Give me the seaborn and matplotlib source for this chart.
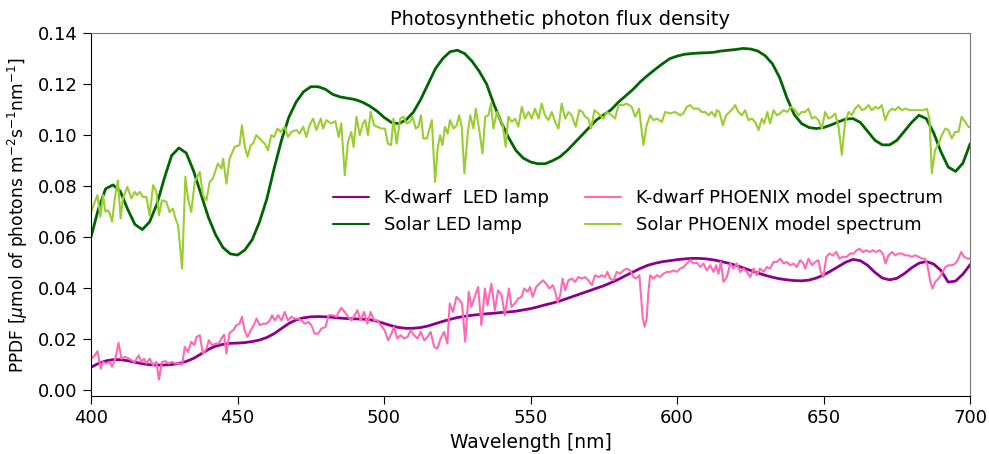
import seaborn as sns
import numpy as np
import matplotlib.pyplot as plt

# LED lamp spectra (smooth), every 2.5 nm
led_wl = [400 + 2.5 * i for i in range(121)]
kdwarf_led = [0.0090, 0.0105, 0.0115, 0.0120, 0.0120, 0.0116, 0.0110, 0.0104, 0.0100, 0.0099,
              0.0099, 0.0101, 0.0105, 0.0113, 0.0125, 0.0142, 0.0160, 0.0173, 0.0180, 0.0184,
              0.0185, 0.0187, 0.0191, 0.0197, 0.0207, 0.0222, 0.0242, 0.0262, 0.0276, 0.0284,
              0.0288, 0.0289, 0.0288, 0.0286, 0.0283, 0.0281, 0.0280, 0.0279, 0.0277, 0.0271,
              0.0262, 0.0253, 0.0246, 0.0243, 0.0243, 0.0246, 0.0252, 0.0261, 0.0270, 0.0278,
              0.0285, 0.0290, 0.0294, 0.0297, 0.0300, 0.0302, 0.0305, 0.0307, 0.0310, 0.0315,
              0.0320, 0.0327, 0.0335, 0.0342, 0.0350, 0.0360, 0.0370, 0.0380, 0.0390, 0.0400,
              0.0410, 0.0422, 0.0435, 0.0450, 0.0464, 0.0478, 0.0490, 0.0498, 0.0504, 0.0508,
              0.0512, 0.0515, 0.0517, 0.0517, 0.0515, 0.0511, 0.0505, 0.0498, 0.0490, 0.0480,
              0.0470, 0.0460, 0.0451, 0.0443, 0.0437, 0.0433, 0.0430, 0.0429, 0.0432, 0.0440,
              0.0452, 0.0468, 0.0485, 0.0502, 0.0513, 0.0508, 0.0490, 0.0462, 0.0440, 0.0433,
              0.0439, 0.0457, 0.0480, 0.0498, 0.0505, 0.0495, 0.0470, 0.0424, 0.0428, 0.0455,
              0.0493]
solar_led = [0.0600, 0.0710, 0.0790, 0.0805, 0.0780, 0.0710, 0.0650, 0.0630, 0.0660, 0.0730,
             0.0830, 0.0920, 0.0950, 0.0930, 0.0860, 0.0770, 0.0680, 0.0610, 0.0560, 0.0535,
             0.0530, 0.0550, 0.0590, 0.0660, 0.0750, 0.0870, 0.0980, 0.1070, 0.1130, 0.1170,
             0.1190, 0.1190, 0.1180, 0.1160, 0.1150, 0.1145, 0.1140, 0.1130, 0.1115, 0.1095,
             0.1070, 0.1050, 0.1045, 0.1060, 0.1090, 0.1140, 0.1200, 0.1260, 0.1300, 0.1327,
             0.1333, 0.1320, 0.1290, 0.1250, 0.1200, 0.1120, 0.1050, 0.0990, 0.0940, 0.0910,
             0.0895, 0.0888, 0.0888, 0.0900, 0.0915, 0.0940, 0.0970, 0.1000, 0.1030, 0.1060,
             0.1080, 0.1100, 0.1130, 0.1155, 0.1180, 0.1210, 0.1235, 0.1258, 0.1280, 0.1300,
             0.1310, 0.1317, 0.1320, 0.1322, 0.1323, 0.1325, 0.1330, 0.1333, 0.1336, 0.1340,
             0.1338, 0.1330, 0.1312, 0.1280, 0.1225, 0.1145, 0.1080, 0.1045, 0.1030, 0.1026,
             0.1030, 0.1040, 0.1052, 0.1063, 0.1065, 0.1050, 0.1015, 0.0980, 0.0962, 0.0962,
             0.0980, 0.1015, 0.1050, 0.1078, 0.1065, 0.1010, 0.0935, 0.0875, 0.0858, 0.0890,
             0.0967]

# PHOENIX model spectra (noisy)
sol_wl = [400.1, 401.3, 402.2, 403.2, 404.1, 404.9, 405.8, 406.4, 407.2, 408.1, 409.2, 410.1, 410.9,
          412.4, 413.8, 414.9, 415.7, 416.6, 417.7, 418.9, 420.0, 421.2, 422.3, 423.2, 424.2, 425.7,
          426.8, 428.0, 428.8, 429.7, 431.1, 432.2, 433.1, 434.2, 435.4, 437.1, 438.2, 439.4, 440.5,
          441.6, 443.3, 444.5, 445.1, 446.2, 447.3, 449.0, 450.7, 451.5, 452.4, 453.4, 454.5, 455.3,
          456.4, 458.1, 459.3, 460.4, 461.5, 462.5, 463.6, 464.7, 466.1, 467.2, 468.4, 470.1, 471.2,
          472.4, 473.5, 474.6, 475.8, 476.9, 478.4, 479.2, 480.3, 482.0, 483.4, 484.5, 485.4, 486.6,
          487.7, 488.8, 489.6, 490.6, 491.7, 492.8, 493.6, 494.5, 495.4, 496.6, 497.7, 499.1, 500.3,
          501.3, 502.4, 503.2, 504.3, 505.5, 506.6, 507.7, 508.9, 509.7, 510.8, 511.7, 512.6, 513.4,
          514.6, 516.3, 517.4, 518.3, 519.1, 519.9, 520.8, 521.7, 522.5, 523.7, 524.8, 525.6, 526.5,
          527.4, 528.6, 529.4, 530.5, 531.3, 532.4, 533.6, 534.5, 535.6, 536.5, 537.3, 538.5, 539.6,
          540.4, 541.5, 542.4, 543.6, 544.7, 545.8, 547.0, 548.1, 549.3, 550.4, 551.5, 552.7, 553.8,
          554.9, 556.1, 557.2, 558.4, 559.5, 560.6, 561.8, 562.9, 564.0, 565.4, 566.6, 567.7, 568.6,
          569.7, 570.6, 571.8, 573.1, 574.9, 576.0, 577.7, 578.8, 580.0, 581.7, 582.8, 584.5, 585.7,
          587.0, 588.5, 589.6, 590.8, 591.9, 593.1, 594.8, 595.9, 597.6, 599.3, 601.0, 602.1, 603.3,
          604.4, 605.6, 607.3, 608.4, 609.6, 610.7, 611.8, 613.0, 613.5, 614.4, 615.6, 616.7, 617.9,
          619.0, 619.8, 620.9, 622.1, 623.2, 624.3, 625.5, 626.6, 627.8, 628.9, 629.7, 630.8, 631.7,
          632.9, 634.0, 635.1, 636.3, 637.6, 638.8, 640.3, 641.4, 642.5, 643.7, 644.8, 646.0, 647.1,
          648.2, 649.4, 650.5, 651.6, 652.8, 653.9, 655.1, 656.2, 657.3, 658.5, 659.6, 660.7, 661.9,
          663.0, 664.2, 665.3, 666.4, 667.6, 668.7, 669.8, 671.0, 672.1, 673.3, 674.4, 675.5, 676.7,
          677.8, 679.5, 681.2, 682.9, 684.1, 685.2, 686.1, 686.9, 688.0, 689.2, 690.3, 691.5, 692.6,
          693.7, 694.9, 696.0, 697.1, 698.3, 699.4, 700.0]
sol_phoenix = [0.0700, 0.0738, 0.0765, 0.0680, 0.0765, 0.0700, 0.0706, 0.0693, 0.0660, 0.0752, 0.0823,
               0.0673, 0.0752, 0.0797, 0.0752, 0.0778, 0.0765, 0.0778, 0.0758, 0.0758, 0.0686, 0.0804,
               0.0778, 0.0686, 0.0745, 0.0739, 0.0699, 0.0712, 0.0673, 0.0647, 0.0477, 0.0837, 0.0752,
               0.0699, 0.0817, 0.0856, 0.0765, 0.0745, 0.0817, 0.0830, 0.0889, 0.0869, 0.0908, 0.0810,
               0.0908, 0.0954, 0.0961, 0.1039, 0.0961, 0.0915, 0.0961, 0.0967, 0.1000, 0.0980, 0.0967,
               0.0941, 0.1000, 0.0993, 0.1026, 0.1013, 0.1033, 0.0993, 0.1013, 0.1020, 0.1006, 0.1033,
               0.0993, 0.1039, 0.1065, 0.1020, 0.1065, 0.1026, 0.1059, 0.1046, 0.1055, 0.0993, 0.1046,
               0.0843, 0.0974, 0.1013, 0.0954, 0.1072, 0.1000, 0.1046, 0.1059, 0.1000, 0.1091, 0.1039,
               0.1033, 0.1026, 0.1026, 0.0967, 0.0961, 0.1065, 0.0967, 0.1065, 0.1072, 0.1046, 0.1052,
               0.1072, 0.1026, 0.1033, 0.1078, 0.0987, 0.0987, 0.1059, 0.0817, 0.0948, 0.1000, 0.0961,
               0.1033, 0.1006, 0.1059, 0.1026, 0.1039, 0.1078, 0.1033, 0.0850, 0.1013, 0.1078, 0.1026,
               0.1104, 0.1026, 0.0928, 0.1072, 0.1078, 0.1124, 0.1026, 0.1091, 0.1059, 0.1046, 0.0954,
               0.1072, 0.1052, 0.1065, 0.1033, 0.1111, 0.1065, 0.1091, 0.1065, 0.1104, 0.1065, 0.1124,
               0.1078, 0.1059, 0.1091, 0.1052, 0.1026, 0.1124, 0.1065, 0.1091, 0.1078, 0.1033, 0.1098,
               0.1091, 0.1072, 0.1065, 0.1026, 0.1098, 0.1085, 0.1065, 0.1091, 0.1078, 0.1065, 0.1118,
               0.1118, 0.1124, 0.1111, 0.1072, 0.1104, 0.0961, 0.1039, 0.1078, 0.1059, 0.1065, 0.1052,
               0.1091, 0.1085, 0.1091, 0.1078, 0.1085, 0.1111, 0.1118, 0.1104, 0.1104, 0.1091, 0.1091,
               0.1078, 0.1091, 0.1072, 0.1098, 0.1091, 0.1039, 0.1078, 0.1091, 0.1104, 0.1118, 0.1091,
               0.1078, 0.1098, 0.1059, 0.1065, 0.1052, 0.1020, 0.1065, 0.1046, 0.1091, 0.1046, 0.1098,
               0.1078, 0.1085, 0.1098, 0.1091, 0.1111, 0.1098, 0.1078, 0.1091, 0.1091, 0.1104, 0.1065,
               0.1072, 0.1059, 0.1026, 0.1091, 0.1065, 0.1072, 0.1085, 0.1033, 0.0922, 0.1052, 0.1091,
               0.1078, 0.1104, 0.1118, 0.1098, 0.1104, 0.1118, 0.1098, 0.1111, 0.1104, 0.1118, 0.1059,
               0.1091, 0.1104, 0.1098, 0.1111, 0.1098, 0.1104, 0.1098, 0.1098, 0.1098, 0.1098, 0.1104,
               0.1065, 0.0850, 0.0941, 0.0967, 0.1000, 0.1026, 0.1020, 0.0987, 0.1013, 0.1013, 0.1072,
               0.1052, 0.1033, 0.1030]

kd_wl = [400.1, 401.3, 402.2, 403.3, 404.1, 405.2, 406.4, 407.2, 408.3, 409.4, 410.4, 411.5, 412.6,
         413.8, 414.9, 416.3, 417.2, 418.1, 418.9, 420.0, 421.2, 422.3, 423.2, 424.2, 425.4, 426.5,
         427.6, 428.8, 429.9, 431.1, 432.0, 433.1, 434.2, 435.2, 436.0, 437.1, 438.2, 439.4, 440.2,
         441.3, 442.5, 443.6, 444.5, 445.4, 446.2, 447.3, 448.5, 449.6, 450.7, 451.5, 452.4, 453.4,
         454.5, 455.6, 456.5, 457.6, 458.7, 459.8, 461.0, 461.8, 462.7, 463.9, 465.0, 466.1, 467.2,
         468.4, 469.5, 470.6, 471.8, 472.9, 474.1, 475.2, 476.3, 477.5, 478.6, 480.0, 481.1, 482.6,
         483.8, 484.5, 485.4, 486.6, 487.7, 488.8, 490.0, 490.9, 492.0, 493.2, 494.3, 495.4, 496.6,
         497.7, 498.9, 500.2, 501.4, 502.5, 503.4, 504.5, 505.7, 506.8, 508.0, 509.1, 510.2, 511.4,
         512.5, 513.7, 514.8, 515.9, 517.1, 518.2, 519.3, 520.5, 521.6, 522.4, 523.5, 524.7, 525.8,
         526.6, 527.7, 528.9, 529.8, 530.9, 532.1, 533.2, 534.4, 535.3, 536.6, 537.8, 538.9, 540.1,
         541.2, 542.6, 543.5, 544.6, 545.8, 546.9, 547.8, 549.0, 549.8, 550.7, 551.9, 553.0, 554.2,
         555.3, 556.4, 557.6, 558.4, 559.2, 560.1, 560.9, 561.8, 562.9, 564.1, 565.2, 566.3, 567.5,
         568.6, 569.7, 570.9, 572.0, 573.2, 574.3, 575.4, 576.2, 577.1, 578.3, 579.4, 580.5, 581.7,
         582.8, 584.0, 585.1, 586.0, 587.1, 588.3, 588.9, 589.6, 590.2, 590.8, 591.9, 593.1, 594.2,
         595.3, 596.5, 597.6, 598.8, 599.9, 601.0, 602.2, 603.3, 604.4, 605.6, 606.7, 607.9, 609.0,
         610.1, 611.3, 612.4, 613.3, 614.1, 614.9, 615.8, 617.0, 618.1, 619.2, 620.4, 621.5, 622.6,
         623.8, 624.9, 626.1, 627.2, 628.3, 629.5, 630.6, 631.7, 632.9, 634.0, 635.2, 636.3, 637.4,
         638.6, 639.7, 640.8, 642.0, 643.1, 643.7, 644.8, 646.0, 647.1, 648.2, 649.0, 649.9, 650.9,
         652.0, 653.1, 654.3, 655.4, 656.5, 657.9, 659.0, 660.2, 661.3, 662.2, 663.4, 664.5, 665.6,
         666.8, 667.9, 669.1, 670.2, 671.1, 672.1, 673.3, 674.4, 675.5, 676.7, 677.8, 678.9, 680.1,
         681.2, 682.4, 683.5, 684.6, 685.4, 686.4, 687.1, 688.1, 689.2, 690.3, 691.5, 692.6, 693.8,
         694.9, 696.0, 696.9, 697.9, 699.1, 700.0]
kd_phoenix = [0.0124, 0.0137, 0.0153, 0.0085, 0.0111, 0.0105, 0.0111, 0.0092, 0.0124, 0.0186, 0.0124,
              0.0131, 0.0127, 0.0118, 0.0111, 0.0137, 0.0111, 0.0124, 0.0105, 0.0124, 0.0098, 0.0111,
              0.0042, 0.0111, 0.0114, 0.0105, 0.0111, 0.0105, 0.0105, 0.0101, 0.0170, 0.0150, 0.0190,
              0.0177, 0.0209, 0.0216, 0.0144, 0.0163, 0.0196, 0.0177, 0.0183, 0.0183, 0.0203, 0.0218,
              0.0144, 0.0226, 0.0235, 0.0255, 0.0261, 0.0288, 0.0235, 0.0209, 0.0235, 0.0257, 0.0281,
              0.0255, 0.0261, 0.0261, 0.0274, 0.0294, 0.0274, 0.0294, 0.0274, 0.0307, 0.0274, 0.0288,
              0.0281, 0.0281, 0.0274, 0.0261, 0.0268, 0.0255, 0.0222, 0.0222, 0.0242, 0.0248, 0.0294,
              0.0294, 0.0288, 0.0307, 0.0323, 0.0307, 0.0288, 0.0274, 0.0294, 0.0314, 0.0274, 0.0307,
              0.0261, 0.0307, 0.0274, 0.0274, 0.0255, 0.0235, 0.0196, 0.0222, 0.0248, 0.0203, 0.0216,
              0.0203, 0.0209, 0.0235, 0.0216, 0.0203, 0.0229, 0.0196, 0.0209, 0.0229, 0.0170, 0.0163,
              0.0203, 0.0229, 0.0183, 0.0340, 0.0307, 0.0366, 0.0353, 0.0340, 0.0190, 0.0386, 0.0327,
              0.0366, 0.0405, 0.0255, 0.0399, 0.0333, 0.0418, 0.0314, 0.0392, 0.0373, 0.0294, 0.0399,
              0.0327, 0.0340, 0.0360, 0.0366, 0.0399, 0.0386, 0.0405, 0.0366, 0.0405, 0.0418, 0.0431,
              0.0418, 0.0399, 0.0412, 0.0386, 0.0346, 0.0373, 0.0438, 0.0392, 0.0431, 0.0438, 0.0425,
              0.0444, 0.0438, 0.0444, 0.0431, 0.0412, 0.0451, 0.0444, 0.0451, 0.0444, 0.0464, 0.0438,
              0.0431, 0.0464, 0.0457, 0.0470, 0.0477, 0.0470, 0.0444, 0.0438, 0.0451, 0.0281, 0.0249,
              0.0281, 0.0386, 0.0451, 0.0438, 0.0451, 0.0444, 0.0457, 0.0464, 0.0464, 0.0470, 0.0464,
              0.0477, 0.0483, 0.0497, 0.0510, 0.0497, 0.0501, 0.0483, 0.0497, 0.0470, 0.0490, 0.0464,
              0.0490, 0.0457, 0.0503, 0.0425, 0.0444, 0.0497, 0.0477, 0.0497, 0.0464, 0.0477, 0.0464,
              0.0444, 0.0477, 0.0451, 0.0477, 0.0464, 0.0483, 0.0477, 0.0503, 0.0503, 0.0516, 0.0497,
              0.0503, 0.0490, 0.0497, 0.0483, 0.0510, 0.0497, 0.0477, 0.0516, 0.0490, 0.0503, 0.0510,
              0.0464, 0.0444, 0.0523, 0.0536, 0.0529, 0.0542, 0.0516, 0.0523, 0.0523, 0.0536, 0.0536,
              0.0549, 0.0555, 0.0542, 0.0549, 0.0542, 0.0549, 0.0542, 0.0549, 0.0536, 0.0497, 0.0529,
              0.0542, 0.0529, 0.0536, 0.0536, 0.0529, 0.0529, 0.0523, 0.0529, 0.0523, 0.0516, 0.0516,
              0.0490, 0.0425, 0.0399, 0.0425, 0.0438, 0.0457, 0.0483, 0.0490, 0.0490, 0.0497, 0.0516,
              0.0542, 0.0523, 0.0516, 0.0516]

sns.set_style("ticks")
plt.rcParams['font.family'] = ['DejaVu Sans']
plt.rcParams['text.color'] = 'black'
plt.rcParams['axes.labelcolor'] = 'black'
plt.rcParams['xtick.color'] = 'black'
plt.rcParams['ytick.color'] = 'black'
plt.rcParams['axes.edgecolor'] = 'black'

fig, ax = plt.subplots(figsize=(9.89, 4.54), dpi=100)
fig.subplots_adjust(left=0.092, right=0.981, top=0.927, bottom=0.128)

sns.lineplot(x=led_wl, y=kdwarf_led, color='darkmagenta', lw=2, label='K-dwarf  LED lamp', ax=ax)
sns.lineplot(x=led_wl, y=solar_led, color='darkgreen', lw=2, label='Solar LED lamp', ax=ax)
sns.lineplot(x=kd_wl, y=kd_phoenix, color='hotpink', lw=1.5, label='K-dwarf PHOENIX model spectrum', ax=ax)
sns.lineplot(x=sol_wl, y=sol_phoenix, color='yellowgreen', lw=1.5, label='Solar PHOENIX model spectrum', ax=ax)

ax.set_xlim(400, 700)
ax.set_ylim(-0.0022, 0.14)
ax.set_yticks(np.arange(0, 0.141, 0.02))
ax.yaxis.set_major_formatter(plt.FormatStrFormatter('%.2f'))
ax.tick_params(labelsize=13, length=6)
ax.set_xlabel('Wavelength [nm]', fontsize=13.5)
ax.set_ylabel(r'PPDF [$\mu$mol of photons m$^{-2}$s$^{-1}$nm$^{-1}$]', fontsize=12.3, labelpad=6)
ax.set_title('Photosynthetic photon flux density', fontsize=14, x=0.534)
for s in ['top', 'right']:
    ax.spines[s].set_color('#777777')

leg = ax.legend(ncol=2, frameon=False, fontsize=13, loc='center', bbox_to_anchor=(0.622, 0.507),
                handlelength=2, columnspacing=2.0)
for line in leg.get_lines():
    line.set_linewidth(1.5)

fig.savefig('out.png', dpi=100)
